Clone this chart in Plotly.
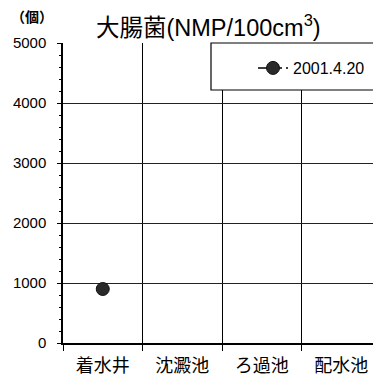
import plotly.graph_objects as go

categories = ["着水井", "沈澱池", "ろ過池", "配水池"]
values = [900, None, None, None]
series_name = "2001.4.20"
y_ticks = [0, 1000, 2000, 3000, 4000, 5000]

# page body has an 8px margin, so the figure is sized to fill the rest of the window
W, H = 373, 374
L, T, B, R = 55, 35, 39, 0
pw, ph = W - L - R, H - T - B

fig = go.Figure()
fig.add_trace(go.Scatter(
    x=categories, y=values, name=series_name,
    mode="lines+markers",
    line=dict(color="black", width=1.5, dash="10px,4px"),
    marker=dict(symbol="circle", size=13, color="#2a2a2a", line=dict(color="#111111", width=1)),
))

font = "Liberation Sans, Arial, Noto Sans CJK JP, sans-serif"
fig.update_layout(
    width=W, height=H,
    margin=dict(l=L, r=R, t=T, b=B),
    paper_bgcolor="white", plot_bgcolor="white",
    font=dict(family=font, color="black", size=14),
    showlegend=True,
    legend=dict(x=(258 - 63 - 5) / pw, y=1 - 8 / ph, xanchor="left", yanchor="top",
                borderwidth=0, bgcolor="rgba(0,0,0,0)",
                font=dict(size=16)),
    xaxis=dict(type="category", categoryorder="array", categoryarray=categories,
               range=[-0.5, 3.5], tickson="boundaries",
               showgrid=True, gridcolor="black", gridwidth=1,
               showline=True, linecolor="black", linewidth=1.5,
               ticks="outside", ticklen=6, tickcolor="black",
               ticklabelstandoff=6,
               tickfont=dict(size=18), zeroline=False),
    yaxis=dict(range=[0, 5000], tickvals=y_ticks,
               showgrid=True, gridcolor="#222222", gridwidth=1,
               showline=True, linecolor="black", linewidth=1.5,
               ticks="outside", ticklen=4, tickcolor="black",
               ticklabelstandoff=8,
               minor=dict(dtick=200, ticks="outside", ticklen=2, tickcolor="black", showgrid=False),
               tickfont=dict(size=15), zeroline=False),
    shapes=[dict(type="rect", xref="paper", yref="paper",
                 x0=(211 - 63) / pw, x1=1.02, y0=1 - 47 / ph, y1=1,
                 line=dict(color="black", width=1.2), fillcolor="white", layer="above")],
    annotations=[
        dict(text="大腸菌(NMP/100cm<sup>3</sup>)", xref="paper", yref="paper",
             x=(208 - 63) / pw, y=1 + (43 - 26) / ph, xanchor="center", yanchor="middle",
             showarrow=False, font=dict(size=23.5)),
        dict(text="<b>（個）</b>", xref="paper", yref="paper",
             x=(9 - 63) / pw, y=1 + (43 - 17) / ph, xanchor="left", yanchor="middle",
             showarrow=False, font=dict(size=14)),
    ],
)

fig.write_html("out.html")
